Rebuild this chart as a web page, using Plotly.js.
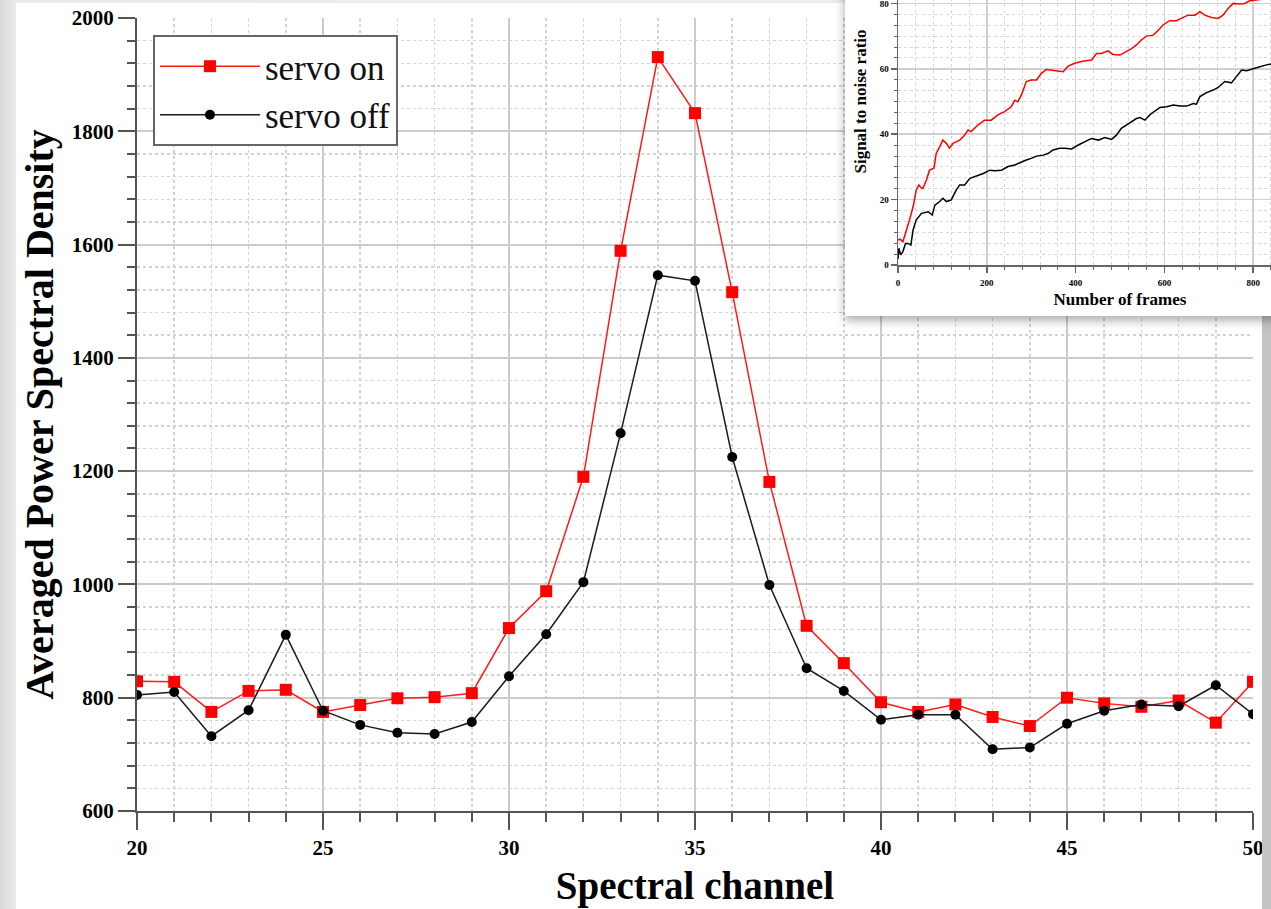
<!DOCTYPE html>
<html>
<head>
<meta charset="utf-8">
<script src="https://cdn.plot.ly/plotly-3.0.1.min.js"></script>
<style>
  html, body { margin: 0; padding: 0; width: 1271px; height: 909px; overflow: hidden; }
  body { background: linear-gradient(to right, #d8d8d8 0px, #ececec 16px, #ededed 1262px, #c4c4c4 1262px); position: relative; }
  #main { position: absolute; left: 16px; top: 3px; width: 1246px; height: 906px; background: #fff; }
  #inset { position: absolute; left: 845px; top: -80px; width: 517px; height: 396px; background: #fff;
           box-shadow: 0 4px 10px rgba(0,0,0,0.35); }
</style>
</head>
<body>
<div id="main"></div>
<div id="inset"></div>
<script>
// ---- main chart data ----
const channels = [20,21,22,23,24,25,26,27,28,29,30,31,32,33,34,35,36,37,38,39,40,41,42,43,44,45,46,47,48,49,50];
const servoOn  = [829,828,775,812,814,775,787,799,801,808,923,988,1190,1589,1931,1832,1516,1181,927,861,792,775,788,766,750,800,790,784,795,756,828];
const servoOff = [805,810,732,778,911,777,752,738,736,757,838,912,1004,1267,1546,1536,1225,999,852,812,761,770,770,709,712,754,777,788,785,822,771];
const seriesNames = ["servo on", "servo off"];

// ---- inset data (signal to noise ratio vs number of frames) ----
const onFrames = [0,5,11,15,19,26,34,41,44,47,52,56,64,71,81,86,94,101,109,116,124,139,150,158,165,180,195,210,225,240,255,263,270,278,289,300,312,323,334,346,361,372,383,398,413,428,436,447,458,473,484,500,511,526,537,548,560,575,586,597,612,627,638,653,669,680,691,706,721,732,744,755,770,781,792,804,815,830,845];
const onSNR    = [7.6,7.9,7.1,8.6,10.7,13.8,17.8,22.9,23.8,24.5,23.6,23.4,26.0,29.0,29.6,34.1,36.2,38.2,37.2,35.7,37.2,38.2,39.7,41.3,40.8,42.8,44.3,44.3,45.9,46.9,48.4,50.4,49.9,52.0,56.1,56.6,56.6,58.6,59.8,59.6,59.4,59.1,60.8,61.7,62.2,62.4,62.7,64.7,64.7,65.5,64.4,64.2,65.0,66.2,67.3,68.8,70.0,70.3,71.8,73.4,74.7,74.7,75.4,76.4,76.4,77.5,76.4,75.7,75.4,76.4,78.5,80.0,79.8,80.0,80.8,81.0,81.2,82.0,82.6];
const offFrames = [0,2,6,11,17,23,29,34,41,53,68,77,83,94,101,109,120,131,139,150,162,177,192,207,218,233,248,263,278,289,300,312,327,338,349,364,376,391,406,421,436,451,466,481,492,503,515,526,537,545,556,567,578,590,605,620,635,650,665,672,680,695,710,721,736,751,762,774,785,800,815,830,845];
const offSNR    = [1.8,5.1,3.1,4.1,6.6,6.6,6.1,10.7,13.8,15.8,16.3,15.3,18.3,19.4,20.4,19.4,19.9,22.9,24.5,24.5,26.5,27.2,28.0,29.0,28.8,29.0,30.1,30.6,31.6,32.1,32.6,33.3,33.6,34.1,35.2,35.7,35.7,35.5,36.7,37.7,38.7,38.2,39.0,38.4,39.7,41.8,42.8,43.8,44.8,45.1,44.3,45.9,46.9,48.2,48.4,48.9,48.6,48.6,49.4,49.2,51.5,52.7,53.5,54.3,56.1,55.7,57.6,59.6,59.4,60.1,60.6,61.2,61.6];

const SERIF = "'Liberation Serif', 'Times New Roman', serif";
const AX = '#555555';

// ---------- main chart ----------
const mainTraces = [
  { x: channels, y: servoOn, name: seriesNames[0], type: 'scatter', mode: 'lines+markers',
    line: { color: '#ff1a1a', width: 1.5 },
    marker: { symbol: 'square', size: 12, color: '#ff0000' } },
  { x: channels, y: servoOff, name: seriesNames[1], type: 'scatter', mode: 'lines+markers',
    line: { color: '#1a1a1a', width: 1.5 },
    marker: { symbol: 'circle', size: 10, color: '#000000' } }
];

function axisCommon(extra) {
  return Object.assign({
    ticks: 'outside', ticklen: 17, tickwidth: 2, tickcolor: AX,
    showline: true, linecolor: AX, linewidth: 2,
    showgrid: true, gridcolor: '#cbcbcb', gridwidth: 2, zeroline: false,
    ticklabeloverflow: 'allow',
    tickfont: { family: SERIF, size: 21, color: '#000', weight: 'bold' }
  }, extra);
}

const mainLayout = {
  width: 1246, height: 906,
  margin: { l: 121, r: 9, t: 15, b: 98 },
  paper_bgcolor: '#ffffff', plot_bgcolor: '#ffffff',
  showlegend: true,
  legend: {
    x: 0.0143, y: 0.9786, xanchor: 'left', yanchor: 'top',
    bgcolor: '#ffffff', bordercolor: '#666666', borderwidth: 2,
    font: { family: SERIF, size: 35, color: '#111' },
    itemwidth: 100, tracegroupgap: 0
  },
  xaxis: axisCommon({
    range: [20, 50], tick0: 20, dtick: 5,
    minor: { dtick: 1, ticks: 'outside', ticklen: 9, tickwidth: 2, tickcolor: AX,
             showgrid: true, gridcolor: '#d2d2d2', gridwidth: 1.5, griddash: 'dot' },
    title: { text: 'Spectral channel', font: { family: SERIF, size: 39, color: '#000', weight: 'bold' }, standoff: 12 }
  }),
  yaxis: axisCommon({
    range: [600, 2000], tick0: 600, dtick: 200,
    minor: { dtick: 40, ticks: 'outside', ticklen: 8, tickwidth: 2, tickcolor: AX,
             showgrid: true, gridcolor: '#d2d2d2', gridwidth: 1.5, griddash: 'dot' },
    title: { text: 'Averaged Power Spectral Density', font: { family: SERIF, size: 40, color: '#000', weight: 'bold' }, standoff: 6 }
  })
};

Plotly.newPlot('main', mainTraces, mainLayout, { staticPlot: true, displayModeBar: false });

// ---------- inset chart ----------
const insetTraces = [
  { x: onFrames, y: onSNR, type: 'scatter', mode: 'lines', name: seriesNames[0],
    line: { color: '#ff0000', width: 1.5 } },
  { x: offFrames, y: offSNR, type: 'scatter', mode: 'lines', name: seriesNames[1],
    line: { color: '#000000', width: 1.5 } }
];

function insetAxis(extra) {
  return Object.assign({
    ticks: 'outside', ticklen: 6, tickwidth: 1.5, tickcolor: '#666',
    showline: true, linecolor: '#666', linewidth: 1.5,
    showgrid: true, gridcolor: '#d0d0d0', gridwidth: 1.5, zeroline: false,
    tickfont: { family: SERIF, size: 9, color: '#000', weight: 'bold' }
  }, extra);
}

const insetLayout = {
  width: 517, height: 396,
  margin: { l: 53, r: 20, t: 18, b: 51 },
  paper_bgcolor: '#ffffff', plot_bgcolor: '#ffffff',
  showlegend: false,
  xaxis: insetAxis({
    range: [0, 1000], tick0: 0, dtick: 200, ticklabelstandoff: 3,
    minor: { dtick: 40, ticks: 'outside', ticklen: 3, tickwidth: 1, tickcolor: '#666',
             showgrid: true, gridcolor: '#d6d6d6', gridwidth: 1, griddash: 'dot' },
    title: { text: 'Number of frames', font: { family: SERIF, size: 17, color: '#000', weight: 'bold' }, standoff: 6 }
  }),
  yaxis: insetAxis({
    range: [0, 100], tick0: 0, dtick: 20,
    minor: { dtick: 20/6, ticks: 'outside', ticklen: 3, tickwidth: 1, tickcolor: '#666',
             showgrid: true, gridcolor: '#d6d6d6', gridwidth: 1, griddash: 'dot' },
    title: { text: 'Signal to noise ratio', font: { family: SERIF, size: 17, color: '#000', weight: 'bold' }, standoff: 4 }
  })
};

Plotly.newPlot('inset', insetTraces, insetLayout, { staticPlot: true, displayModeBar: false });
</script>
</body>
</html>
